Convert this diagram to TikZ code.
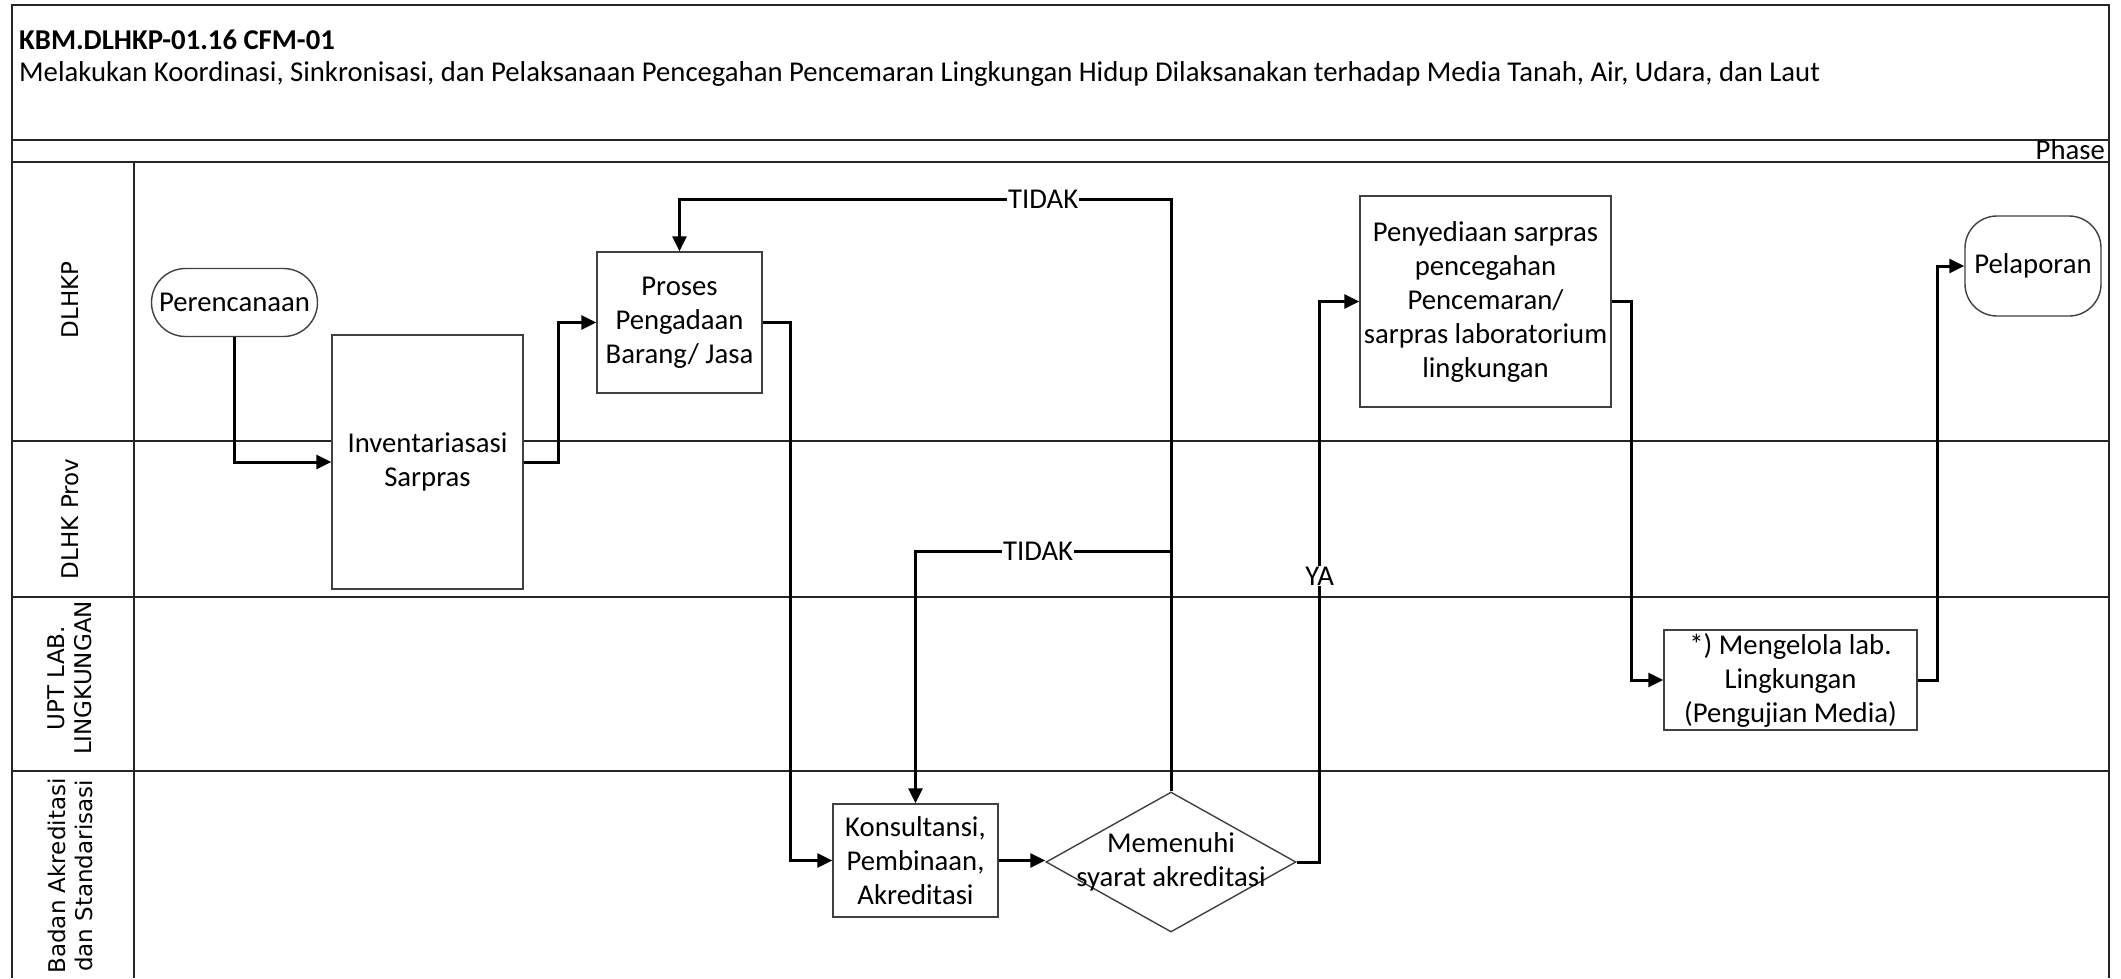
\documentclass[tikz,border=0pt]{standalone}
\usepackage{fontspec}
\setmainfont{Carlito}
\newfontfamily\lanefont{DejaVu Sans}
\usepackage{tikz}
\usetikzlibrary{arrows.meta,shapes.geometric}

\begin{document}
\begin{tikzpicture}[x=1pt,y=-1pt,
  every node/.style={font=\fontsize{28.7}{34}\selectfont},
  box/.style={draw=black!75,line width=1.4pt,fill=white,align=center,inner sep=0pt},
  term/.style={box,rounded corners=#1},
  dec/.style={draw=black!75,line width=1.4pt,fill=white,diamond,inner sep=0pt,minimum width=250pt,minimum height=140pt},
  flow/.style={line width=3pt,-{Triangle[length=15pt,width=14pt]}},
  lbl/.style={fill=white,inner sep=1pt},
  lane/.style={line width=2pt,black!85}]
\useasboundingbox (0,0) rectangle (2121,978);
\draw [lane] (12,978) -- (12,5) -- (2109,5) -- (2109,978);
\foreach \y in {140,162,441,597,771}
  \draw [lane] (12,\y) -- (2109,\y);
\draw [lane,line width=1.4pt] (134,162) -- (134,978);
\node [anchor=base west,inner sep=0pt,font=\bfseries\fontsize{28.7}{34}\selectfont] (kode) at (19,49) {KBM.DLHKP-01.16 CFM-01};
\node [anchor=base west,inner sep=0pt] (judul) at (19,81) {Melakukan Koordinasi, Sinkronisasi, dan Pelaksanaan Pencegahan Pencemaran Lingkungan Hidup Dilaksanakan terhadap Media Tanah, Air, Udara, dan Laut};
\node [anchor=base east,inner sep=0pt] (fase) at (2105,159) {Phase};
\foreach \nm/\y/\txt in {dlhkp/300/DLHKP,prov/519/DLHK Prov,upt/678/UPT LAB.\\LINGKUNGAN,badan/876/Badan Akreditasi\\dan Standarisasi}
  \node [rotate=90,align=center,font=\lanefont\fontsize{23}{27}\selectfont] (\nm) at (70,\y) {\txt};

\node [term=34pt,minimum width=166pt,minimum height=68pt] (renc) at (234.5,302.5) {Perencanaan};
\node [box,minimum width=191pt,minimum height=254pt] (inv) at (427.5,462) {Inventariasasi\\Sarpras};
\node [box,minimum width=165pt,minimum height=141pt] (proses) at (679.5,322.5) {Proses\\Pengadaan\\Barang/ Jasa};
\node [box,minimum width=251pt,minimum height=211pt] (sedia) at (1485.5,301.5) {Penyediaan sarpras\\pencegahan\\Pencemaran/\\sarpras laboratorium\\lingkungan};
\node [term=32pt,minimum width=136pt,minimum height=100pt] (lapor) at (2033,266) {Pelaporan};
\node [box,minimum width=165pt,minimum height=113pt] (konsul) at (915.5,860.5) {Konsultansi,\\Pembinaan,\\Akreditasi};
\node [dec] (cek) at (1171,862) {};
\node [align=center] (cektxt) at (cek) {Memenuhi\\syarat akreditasi};
\node [box,minimum width=253pt,minimum height=100pt] (lab) at (1790.5,680) {*) Mengelola lab.\\Lingkungan\\(Pengujian Media)};

\draw [flow] (renc.south) |- (inv.west);
\draw [flow] (inv.east) -- ++(35,0) |- (proses.west);
\draw [flow] (proses.east) -- ++(28,0) |- (konsul.west);
\draw [flow] (konsul.east) -- (konsul.east -| cek.west);
\draw [flow] (cek.north) -- ++(0,-592) -| node [lbl,pos=0.13] {TIDAK} (proses.north);
\path (cek.north) ++(0,-240) coordinate (cabang);
\draw [flow] (cabang) -| node [lbl,pos=0.26] {TIDAK} (konsul.north);
\draw [flow] (cek.east) -- ++(23,0) |- node [lbl,pos=0.255] {YA} (sedia.west);
\draw [flow] (sedia.east) -- ++(20,0) |- (lab.west);
\draw [flow] (lab.east) -- ++(20,0) |- (lapor.west);
\end{tikzpicture}
\end{document}
